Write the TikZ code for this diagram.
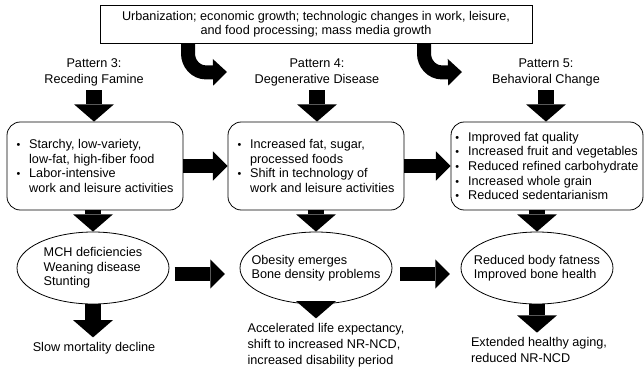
\documentclass[tikz,border=0pt]{standalone}
\usepackage{fontspec}
\setmainfont{Liberation Sans}
\usetikzlibrary{arrows.meta}
\usetikzlibrary{shapes.geometric}

\newcommand{\itm}{\makebox[9.5pt][l]{\scalebox{0.85}{\textbullet}}}
\newcommand{\ind}{\hspace*{9.5pt}}

\tikzset{
  every node/.style={font=\fontsize{9.5}{10.9}\selectfont},
  topbox/.style={draw, semithick, minimum width=324pt, minimum height=28.5pt, align=center, inner sep=0pt},
  pattern/.style={align=center, font=\fontsize{9.5}{12}\selectfont},
  foodbox/.style={draw, semithick, rounded corners=10pt, minimum width=132pt, minimum height=66pt, align=left},
  outcome/.style={draw, semithick, ellipse, minimum width=114pt, minimum height=54pt, align=left, inner xsep=-10pt, inner ysep=0pt},
  result/.style={align=left, font=\fontsize{9.5}{12}\selectfont},
  downarrow/.style={line width=12pt, -{Triangle[length=13pt, width=30pt, line width=0pt]}},
  sidearrow/.style={line width=10.5pt, -{Triangle[length=11pt, width=22pt, line width=0pt]}},
  bendarrow/.style={line width=10.5pt, -{Triangle[length=10.5pt, width=20pt, line width=0pt]}},
}

\begin{document}
\begin{tikzpicture}[x=0.75pt, y=0.75pt]
\useasboundingbox (0,0) rectangle (644,380);

\node[topbox] (drivers) at (316,356) {Urbanization; economic growth; technologic changes in work, leisure,\\and food processing; mass media growth};

\node[pattern] (p3) at (94,308)  {Pattern 3:\\Receding Famine};
\node[pattern] (p4) at (317,308) {Pattern 4:\\Degenerative Disease};
\node[pattern] (p5) at (546,308) {Pattern 5:\\Behavioral Change};

\node[foodbox] (diet3) at (95,214) {\itm Starchy, low-variety,\\\ind low-fat, high-fiber food\\\itm Labor-intensive\\\ind work and leisure activities};
\node[foodbox] (diet4) at (316,214) {\itm Increased fat, sugar,\\\ind processed foods\\\itm Shift in technology of\\\ind work and leisure activities};
\node[foodbox, minimum width=143pt] (diet5) at (547,214) {\itm Improved fat quality\\\itm Increased fruit and vegetables\\\itm Reduced refined carbohydrate\\\itm Increased whole grain\\\itm Reduced sedentarianism};

\node[outcome] (body3) at (93,112)  {MCH deficiencies\\Weaning disease\\Stunting};
\node[outcome] (body4) at (316,112) {Obesity emerges\\Bone density problems};
\node[outcome] (body5) at (537,112) {Reduced body fatness\\Improved bone health};

\node[result] (end3) at (94,32)  {Slow mortality decline};
\node[result] (end4) at (326,35) {Accelerated life expectancy,\\shift to increased NR-NCD,\\increased disability period};
\node[result] (end5) at (539,30) {Extended healthy aging,\\reduced NR-NCD};

\coordinate (bend4) at (227,308);
\coordinate (bend5) at (462,308);

\draw[bendarrow] ([xshift=-96pt]drivers.south) -- ++(0,-10) to[out=-90, in=180] ++(18,-19) -- (bend4);
\draw[bendarrow] ([xshift=81pt]drivers.south)  -- ++(0,-10) to[out=-90, in=180] ++(18,-19) -- (bend5);

\draw[downarrow] (p3.south) -- (p3.south |- diet3.north);
\draw[downarrow] (p4.south) -- (p4.south |- diet4.north);
\draw[downarrow] (p5.south) -- (p5.south |- diet5.north);

\draw[sidearrow] (diet3.east) -- (diet4.west);
\draw[sidearrow] (diet4.east) -- (diet5.west);

\draw[downarrow] (diet3.south -| body3.north) -- (body3.north);
\draw[downarrow] (diet4.south) -- (body4.north);
\draw[downarrow] (diet5.south -| body5.north) -- (body5.north);

\draw[sidearrow, shorten <=4pt, shorten >=11pt] ([yshift=-4.5pt]body3.east) -- ([yshift=-4.5pt]body4.west);
\draw[sidearrow, shorten <=6pt, shorten >=8pt]  ([yshift=-4.5pt]body4.east) -- ([yshift=-4.5pt]body5.west);

\draw[downarrow] (body3.south) -- (body3.south |- end3.north);
\draw[downarrow] (body4.south) -- (body4.south |- end4.north);
\draw[downarrow] (body5.south) -- (body5.south |- end5.north);
\end{tikzpicture}
\end{document}
